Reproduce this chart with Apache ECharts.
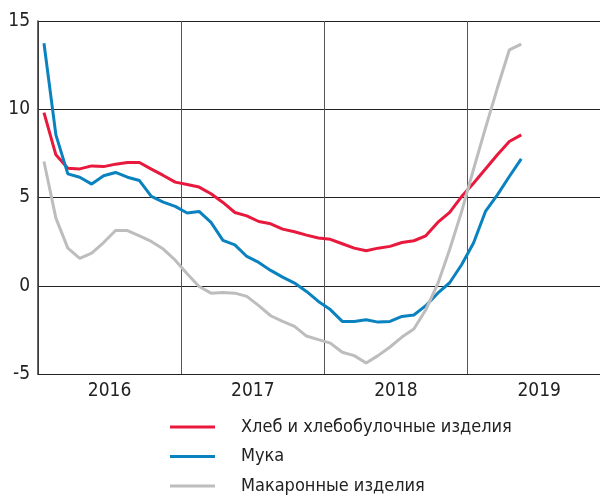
<!DOCTYPE html>
<html>
<head>
<meta charset="utf-8">
<script src="https://cdn.jsdelivr.net/npm/echarts@6/dist/echarts.min.js"></script>
<style>
  html, body { margin: 0; padding: 0; background: #fff; }
  #main { width: 600px; height: 496px; }
</style>
</head>
<body>
<div id="main"></div>
<script>
// monthly points, Jan 2016 .. May 2019
var years = ['2016', '2017', '2018', '2019']
var seriesNames = ['Хлеб и хлебобулочные изделия', 'Мука', 'Макаронные изделия']

var bread = [
  9.81, 7.42, 6.66, 6.62, 6.79, 6.75, 6.89, 6.98, 6.98, 6.61, 6.25, 5.87,
  5.74, 5.59, 5.21, 4.72, 4.15, 3.96, 3.64, 3.51, 3.21, 3.06, 2.87, 2.71,
  2.63, 2.38, 2.13, 1.98, 2.13, 2.23, 2.45, 2.55, 2.83, 3.59, 4.16, 5.05,
  5.81, 6.61, 7.42, 8.17, 8.55,
]
var flour = [
  13.74, 8.55, 6.34, 6.15, 5.76, 6.23, 6.42, 6.15, 5.96, 5.06, 4.74, 4.5,
  4.12, 4.21, 3.59, 2.57, 2.32, 1.66, 1.32, 0.87, 0.49, 0.15, -0.32, -0.89,
  -1.35, -2.02, -2.02, -1.93, -2.06, -2.02, -1.74, -1.66, -1.13, -0.42, 0.17, 1.19,
  2.42, 4.21, 5.15, 6.19, 7.19,
]
var pasta = [
  7.04, 3.83, 2.13, 1.55, 1.85, 2.45, 3.13, 3.13, 2.83, 2.51, 2.08, 1.45,
  0.68, -0.04, -0.42, -0.38, -0.42, -0.6, -1.13, -1.7, -2.02, -2.3, -2.85, -3.05,
  -3.25, -3.77, -3.96, -4.38, -3.96, -3.47, -2.91, -2.45, -1.36, 0.1, 2.05, 4.2,
  6.6, 8.93, 11.2, 13.36, 13.69,
]

var colors = ['#e8193c', '#0a82c0', '#bdbdbd']
var font = '"DejaVu Sans Condensed", "Roboto", sans-serif'
var xMax = 47.1

var chartDom = document.getElementById('main')
var myChart = echarts.init(chartDom)

// month k is drawn at the middle of its month
function pts(arr) {
  return arr.map(function (v, i) { return [i + 0.5, v] })
}

var lines = [bread, flour, pasta].map(function (arr, i) {
  return {
    name: seriesNames[i],
    type: 'line',
    xAxisIndex: 0,
    data: pts(arr),
    symbol: 'none',
    smooth: false,
    lineStyle: { color: colors[i], width: 3 },
    itemStyle: { color: colors[i] },
  }
})

var option = {
  animation: false,
  grid: { left: 38, right: 0, top: 21, bottom: 122 },
  legend: {
    data: seriesNames,
    orient: 'vertical',
    left: 170,
    top: 418,
    padding: 0,
    icon: 'rect',
    itemWidth: 45,
    itemHeight: 3,
    itemGap: 11.5,
    textStyle: {
      fontFamily: font,
      fontSize: 18,
      color: '#222',
      lineHeight: 18,
      padding: [0, 0, 0, 21],
    },
  },
  xAxis: [
    {
      type: 'value',
      min: 0,
      max: xMax,
      interval: 12,
      position: 'bottom',
      axisLine: { show: true, onZero: false, lineStyle: { color: '#222', width: 1 } },
      axisTick: { show: false },
      axisLabel: { show: false },
      splitLine: { show: true, showMaxLine: false, lineStyle: { color: '#555', width: 1 } },
    },
    {
      type: 'value',
      min: 0,
      max: xMax,
      interval: 6,
      position: 'bottom',
      offset: 0,
      axisLine: { show: false },
      axisTick: { show: false },
      splitLine: { show: false },
      axisLabel: {
        margin: 8,
        fontFamily: font,
        fontSize: 19,
        color: '#222',
        showMaxLabel: false,
        formatter: function (v) {
          return v % 12 === 6 ? years[(v - 6) / 12] : ''
        },
      },
    },
  ],
  yAxis: {
    type: 'value',
    min: -5,
    max: 15,
    interval: 5,
    axisLine: { show: true, lineStyle: { color: '#333', width: 1.5 } },
    axisTick: { show: false },
    axisLabel: { margin: 8, fontFamily: font, fontSize: 19, color: '#222' },
    splitLine: { show: true, lineStyle: { color: '#222', width: 1 } },
  },
  series: lines,
}

option && myChart.setOption(option)
</script>
</body>
</html>
